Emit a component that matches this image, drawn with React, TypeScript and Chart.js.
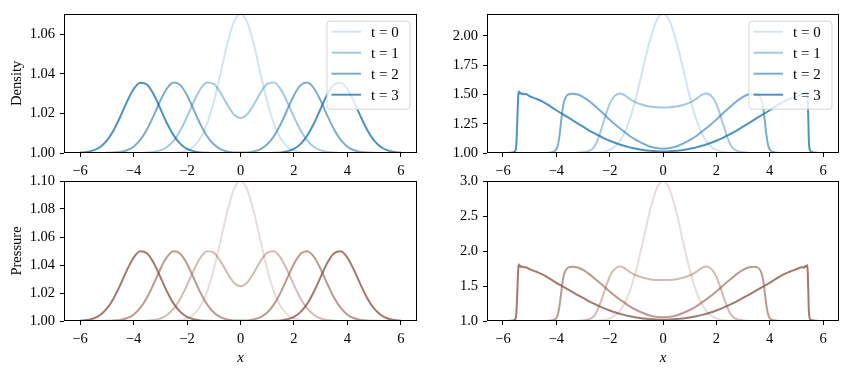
import React, { useEffect, useRef } from "react";
import { Chart, registerables } from "chart.js";

Chart.register(...registerables);

// ---------- data ----------
const LABELS = ["t = 0", "t = 1", "t = 2", "t = 3"];
const X_TICKS = [-6, -4, -2, 0, 2, 4, 6];

// left column (smooth) shared x grid
const LX = [-6, -5.75, -5.5, -5.25, -5, -4.75, -4.5, -4.25, -4, -3.75, -3.5, -3.25, -3, -2.75, -2.5, -2.25, -2, -1.75, -1.5, -1.25, -1, -0.75, -0.5, -0.25, 0, 0.25, 0.5, 0.75, 1, 1.25, 1.5, 1.75, 2, 2.25, 2.5, 2.75, 3, 3.25, 3.5, 3.75, 4, 4.25, 4.5, 4.75, 5, 5.25, 5.5, 5.75, 6];

const DENSITY_T0 = [1, 1, 1, 1, 1, 1, 1, 1, 1, 1, 1, 1, 1, 1, 1.0001, 1.0004, 1.0013, 1.0033, 1.0074, 1.0148, 1.0259, 1.0401, 1.0548, 1.0661, 1.0704, 1.0661, 1.0548, 1.0401, 1.0259, 1.0148, 1.0074, 1.0033, 1.0013, 1.0004, 1.0001, 1, 1, 1, 1, 1, 1, 1, 1, 1, 1, 1, 1, 1, 1];
const DENSITY_T1 = [1, 1, 1, 1, 1, 1, 1, 1, 1, 1, 1.0002, 1.0005, 1.0013, 1.003, 1.0062, 1.0114, 1.0182, 1.0258, 1.0323, 1.0356, 1.0349, 1.0305, 1.0246, 1.0196, 1.0177, 1.0196, 1.0246, 1.0305, 1.0349, 1.0356, 1.0323, 1.0258, 1.0182, 1.0114, 1.0062, 1.003, 1.0013, 1.0005, 1.0002, 1, 1, 1, 1, 1, 1, 1, 1, 1, 1];
const DENSITY_T2 = [1, 1, 1, 1, 1.0001, 1.0002, 1.0005, 1.0014, 1.0032, 1.0066, 1.0119, 1.0188, 1.0264, 1.0326, 1.0356, 1.0343, 1.0292, 1.0219, 1.0145, 1.0085, 1.0044, 1.002, 1.0008, 1.0003, 1.0002, 1.0003, 1.0008, 1.002, 1.0044, 1.0085, 1.0145, 1.0219, 1.0292, 1.0343, 1.0356, 1.0326, 1.0264, 1.0188, 1.0119, 1.0066, 1.0032, 1.0014, 1.0005, 1.0002, 1.0001, 1, 1, 1, 1];
const DENSITY_T3 = [1.0002, 1.0005, 1.0013, 1.003, 1.0062, 1.0114, 1.0182, 1.0258, 1.0322, 1.0355, 1.0346, 1.0297, 1.0225, 1.015, 1.0089, 1.0046, 1.0021, 1.0009, 1.0003, 1.0001, 1, 1, 1, 1, 1, 1, 1, 1, 1, 1.0001, 1.0003, 1.0009, 1.0021, 1.0046, 1.0089, 1.015, 1.0225, 1.0297, 1.0346, 1.0355, 1.0322, 1.0258, 1.0182, 1.0114, 1.0062, 1.003, 1.0013, 1.0005, 1.0002];

const PRESSURE_T0 = [1, 1, 1, 1, 1, 1, 1, 1, 1, 1, 1, 1, 1, 1, 1.0002, 1.0006, 1.0018, 1.0047, 1.0105, 1.021, 1.0368, 1.057, 1.0779, 1.0939, 1.1, 1.0939, 1.0779, 1.057, 1.0368, 1.021, 1.0105, 1.0047, 1.0018, 1.0006, 1.0002, 1, 1, 1, 1, 1, 1, 1, 1, 1, 1, 1, 1, 1, 1];
const PRESSURE_T1 = [1, 1, 1, 1, 1, 1, 1, 1, 1, 1, 1.0002, 1.0007, 1.0018, 1.0043, 1.0088, 1.0159, 1.0256, 1.0362, 1.0452, 1.0499, 1.0489, 1.0428, 1.0345, 1.0275, 1.0248, 1.0275, 1.0345, 1.0428, 1.0489, 1.0499, 1.0452, 1.0362, 1.0256, 1.0159, 1.0088, 1.0043, 1.0018, 1.0007, 1.0002, 1, 1, 1, 1, 1, 1, 1, 1, 1, 1];
const PRESSURE_T2 = [1, 1, 1, 1, 1.0001, 1.0003, 1.0008, 1.002, 1.0045, 1.0093, 1.0166, 1.0264, 1.037, 1.0457, 1.0499, 1.0481, 1.0409, 1.0307, 1.0203, 1.0119, 1.0061, 1.0028, 1.0011, 1.0004, 1.0003, 1.0004, 1.0011, 1.0028, 1.0061, 1.0119, 1.0203, 1.0307, 1.0409, 1.0481, 1.0499, 1.0457, 1.037, 1.0264, 1.0166, 1.0093, 1.0045, 1.002, 1.0008, 1.0003, 1.0001, 1, 1, 1, 1];
const PRESSURE_T3 = [1.0002, 1.0007, 1.0018, 1.0043, 1.0088, 1.0159, 1.0256, 1.0362, 1.0452, 1.0498, 1.0484, 1.0416, 1.0315, 1.0211, 1.0124, 1.0065, 1.003, 1.0012, 1.0004, 1.0001, 1, 1, 1, 1, 1, 1, 1, 1, 1, 1.0001, 1.0004, 1.0012, 1.003, 1.0065, 1.0124, 1.0211, 1.0315, 1.0416, 1.0484, 1.0498, 1.0452, 1.0362, 1.0256, 1.0159, 1.0088, 1.0043, 1.0018, 1.0007, 1.0002];

// right column (large amplitude, steepening)
const SX0 = LX;
const SHOCK_DENSITY_T0 = [1, 1, 1, 1, 1, 1, 1, 1, 1, 1, 1, 1, 1, 1.001, 1.003, 1.009, 1.026, 1.066, 1.147, 1.285, 1.483, 1.722, 1.954, 2.127, 2.192, 2.127, 1.954, 1.722, 1.483, 1.285, 1.147, 1.066, 1.026, 1.009, 1.003, 1.001, 1, 1, 1, 1, 1, 1, 1, 1, 1, 1, 1, 1, 1];
const SHOCK_PRESSURE_T0 = [1, 1, 1, 1, 1, 1, 1, 1, 1, 1, 1, 1, 1, 1.001, 1.004, 1.013, 1.037, 1.094, 1.211, 1.42, 1.736, 2.14, 2.558, 2.878, 3.0, 2.878, 2.558, 2.14, 1.736, 1.42, 1.211, 1.094, 1.037, 1.013, 1.004, 1.001, 1, 1, 1, 1, 1, 1, 1, 1, 1, 1, 1, 1, 1];

const SX1 = [-6, -5, -4, -3.5, -3.25, -3, -2.75, -2.625, -2.5, -2.375, -2.25, -2.125, -2, -1.875, -1.75, -1.6, -1.4, -1.25, -1, -0.75, -0.5, -0.25, 0, 0.25, 0.5, 0.75, 1, 1.25, 1.4, 1.6, 1.75, 1.875, 2, 2.125, 2.25, 2.375, 2.5, 2.625, 2.75, 3, 3.25, 3.5, 4, 5, 6];
const SHOCK_DENSITY_T1 = [1, 1, 1, 1, 1.001, 1.006, 1.02, 1.04, 1.085, 1.16, 1.25, 1.34, 1.42, 1.47, 1.498, 1.508, 1.488, 1.462, 1.43, 1.41, 1.397, 1.391, 1.389, 1.391, 1.397, 1.41, 1.43, 1.462, 1.488, 1.508, 1.498, 1.47, 1.42, 1.34, 1.25, 1.16, 1.085, 1.04, 1.02, 1.006, 1.001, 1, 1, 1, 1];
const SHOCK_PRESSURE_T1 = [1, 1, 1, 1, 1.0014, 1.0084, 1.028, 1.056, 1.121, 1.231, 1.367, 1.507, 1.634, 1.715, 1.761, 1.777, 1.744, 1.702, 1.65, 1.618, 1.597, 1.587, 1.584, 1.587, 1.597, 1.618, 1.65, 1.702, 1.744, 1.777, 1.761, 1.715, 1.634, 1.507, 1.367, 1.231, 1.121, 1.056, 1.028, 1.0084, 1.0014, 1, 1, 1, 1];

const SX2 = [-6, -5, -4.5, -4.3, -4.15, -4.05, -3.98, -3.93, -3.88, -3.83, -3.78, -3.72, -3.65, -3.55, -3.4, -3.2, -3, -2.75, -2.5, -2.25, -2, -1.75, -1.5, -1.25, -1, -0.75, -0.5, -0.25, 0, 0.25, 0.5, 0.75, 1, 1.25, 1.5, 1.75, 2, 2.25, 2.5, 2.75, 3, 3.2, 3.4, 3.55, 3.65, 3.72, 3.78, 3.83, 3.88, 3.93, 3.98, 4.05, 4.15, 4.3, 4.5, 5, 6];
const SHOCK_DENSITY_T2 = [1, 1, 1, 1.002, 1.007, 1.018, 1.04, 1.08, 1.15, 1.25, 1.35, 1.43, 1.475, 1.5, 1.507, 1.5, 1.48, 1.44, 1.39, 1.34, 1.285, 1.235, 1.19, 1.145, 1.11, 1.08, 1.055, 1.042, 1.037, 1.042, 1.055, 1.08, 1.11, 1.145, 1.19, 1.235, 1.285, 1.34, 1.39, 1.44, 1.48, 1.5, 1.507, 1.5, 1.475, 1.43, 1.35, 1.25, 1.15, 1.08, 1.04, 1.018, 1.007, 1.002, 1, 1, 1];
const SHOCK_PRESSURE_T2 = [1, 1, 1, 1.0028, 1.0098, 1.025, 1.056, 1.114, 1.216, 1.367, 1.522, 1.65, 1.723, 1.764, 1.776, 1.764, 1.731, 1.666, 1.586, 1.507, 1.421, 1.344, 1.276, 1.209, 1.157, 1.114, 1.078, 1.059, 1.052, 1.059, 1.078, 1.114, 1.157, 1.209, 1.276, 1.344, 1.421, 1.507, 1.586, 1.666, 1.731, 1.764, 1.776, 1.764, 1.723, 1.65, 1.522, 1.367, 1.216, 1.114, 1.056, 1.025, 1.0098, 1.0028, 1, 1, 1];

const SX3 = [-6, -5.8, -5.65, -5.57, -5.52, -5.49, -5.46, -5.43, -5.41, -5.38, -5.35, -5.31, -5.27, -5.22, -5.15, -5, -4.75, -4.5, -4.25, -4, -3.75, -3.5, -3.25, -3, -2.75, -2.5, -2.25, -2, -1.75, -1.5, -1.25, -1, -0.75, -0.5, -0.25, 0, 0.25, 0.5, 0.75, 1, 1.25, 1.5, 1.75, 2, 2.25, 2.5, 2.75, 3, 3.25, 3.5, 3.75, 4, 4.25, 4.5, 4.75, 5, 5.15, 5.22, 5.28, 5.33, 5.37, 5.41, 5.43, 5.45, 5.47, 5.5, 5.55, 5.65, 5.8, 6];
const SHOCK_DENSITY_T3 = [1, 1.001, 1.004, 1.012, 1.03, 1.12, 1.3, 1.48, 1.528, 1.508, 1.515, 1.504, 1.509, 1.501, 1.503, 1.485, 1.463, 1.437, 1.402, 1.365, 1.33, 1.295, 1.26, 1.225, 1.19, 1.16, 1.13, 1.105, 1.083, 1.064, 1.048, 1.036, 1.026, 1.019, 1.014, 1.012, 1.014, 1.019, 1.026, 1.036, 1.048, 1.064, 1.083, 1.105, 1.13, 1.16, 1.19, 1.225, 1.26, 1.295, 1.33, 1.365, 1.402, 1.437, 1.463, 1.485, 1.5, 1.505, 1.499, 1.512, 1.506, 1.522, 1.45, 1.28, 1.1, 1.03, 1.012, 1.004, 1.001, 1];
const SHOCK_PRESSURE_T3 = [1, 1.0014, 1.0056, 1.0168, 1.042, 1.172, 1.444, 1.731, 1.81, 1.777, 1.789, 1.771, 1.779, 1.766, 1.769, 1.74, 1.703, 1.661, 1.605, 1.546, 1.491, 1.436, 1.382, 1.329, 1.276, 1.231, 1.187, 1.15, 1.118, 1.091, 1.068, 1.051, 1.037, 1.027, 1.02, 1.017, 1.02, 1.027, 1.037, 1.051, 1.068, 1.091, 1.118, 1.15, 1.187, 1.231, 1.276, 1.329, 1.382, 1.436, 1.491, 1.546, 1.605, 1.661, 1.703, 1.74, 1.764, 1.772, 1.762, 1.784, 1.774, 1.8, 1.683, 1.413, 1.143, 1.042, 1.017, 1.0056, 1.0014, 1];

const Y_TICKS_TL = [1.0, 1.02, 1.04, 1.06];
const Y_TICKS_TR = [1.0, 1.25, 1.5, 1.75, 2.0];
const Y_TICKS_BL = [1.0, 1.02, 1.04, 1.06, 1.08, 1.1];
const Y_TICKS_BR = [1.0, 1.5, 2.0, 2.5, 3.0];

// ---------- styling ----------
const BLUE = ["rgba(31,119,180,0.2)", "rgba(31,119,180,0.4)", "rgba(31,119,180,0.6)", "rgba(31,119,180,0.8)"];
const BROWN = ["rgba(140,86,75,0.2)", "rgba(140,86,75,0.4)", "rgba(140,86,75,0.6)", "rgba(140,86,75,0.8)"];
const FAMILY = "'Liberation Serif', 'DejaVu Serif', serif";

type Series = { xs: number[]; ys: number[] };

const fmtNum = (v: number, d: number) => {
  const s = Math.abs(v).toFixed(d);
  return v < 0 ? "\u2212" + s : s;
};

const framePlugin = {
  id: "frame",
  afterDatasetsDraw(chart: any, _args: any, opts: any) {
    const { ctx, chartArea: a } = chart;
    ctx.save();
    ctx.strokeStyle = "#000";
    ctx.lineWidth = 1;
    ctx.strokeRect(Math.round(a.left) + 0.5, Math.round(a.top) + 0.5, Math.round(a.right - a.left) - 1, Math.round(a.bottom - a.top) - 1);
    if (opts && opts.show) {
      const colors: string[] = opts.colors;
      const w = 83;
      const h = 88;
      const right = a.right - 7;
      const top = a.top + 7.5;
      const left = right - w;
      ctx.beginPath();
      (ctx as any).roundRect(left, top, w, h, 3);
      ctx.fillStyle = "rgba(255,255,255,0.8)";
      ctx.fill();
      ctx.strokeStyle = "rgba(204,204,204,0.8)";
      ctx.lineWidth = 1;
      ctx.stroke();
      ctx.font = `15px ${FAMILY}`;
      ctx.textBaseline = "middle";
      ctx.textAlign = "left";
      LABELS.forEach((lab, i) => {
        const y = top + 10.5 + i * 21;
        ctx.beginPath();
        ctx.moveTo(left + 4.5, y);
        ctx.lineTo(left + 34, y);
        ctx.strokeStyle = colors[i];
        ctx.lineWidth = 2;
        ctx.stroke();
        ctx.fillStyle = "#000";
        ctx.fillText(lab, left + 44, y + 1);
      });
    }
    ctx.restore();
  },
};

type PanelProps = {
  left: number;
  top: number;
  width: number;
  height: number;
  padTop: number;
  padRight: number;
  yAxisWidth: number;
  xAxisHeight: number;
  series: Series[];
  colors: string[];
  yMin: number;
  yMax: number;
  yTicks: number[];
  yDecimals: number;
  yTitle?: string;
  xTitle?: string;
  legend?: boolean;
};

function Panel(p: PanelProps) {
  const ref = useRef<HTMLCanvasElement>(null);
  useEffect(() => {
    if (!ref.current) return;
    const n = p.series.length;
    const chart = new Chart(ref.current, {
      type: "line",
      data: {
        datasets: p.series.map((s, i) => ({
          label: LABELS[i],
          data: s.xs.map((x, j) => ({ x, y: s.ys[j] })),
          borderColor: p.colors[i],
          backgroundColor: p.colors[i],
          borderWidth: 2,
          pointRadius: 0,
          fill: false,
          cubicInterpolationMode: "monotone" as const,
          order: n - 1 - i,
        })),
      },
      options: {
        animation: false,
        responsive: false,
        events: [],
        layout: { padding: { left: 0, right: p.padRight, top: p.padTop, bottom: 0 } },
        plugins: {
          legend: { display: false },
          tooltip: { enabled: false },
          frame: { show: !!p.legend, colors: p.colors },
        } as any,
        scales: {
          x: {
            type: "linear",
            min: -6.6,
            max: 6.6,
            afterFit: (s: any) => {
              s.height = p.xAxisHeight;
            },
            afterBuildTicks: (s: any) => {
              s.ticks = X_TICKS.map((v) => ({ value: v }));
            },
            grid: { display: true, drawOnChartArea: false, drawTicks: true, tickLength: 4, tickColor: "#000", tickWidth: 1 },
            border: { display: false },
            ticks: {
              color: "#000",
              font: { family: FAMILY, size: 14.5 },
              padding: 5,
              maxRotation: 0,
              autoSkip: false,
              callback: (v: any) => fmtNum(Number(v), 0),
            },
            title: p.xTitle
              ? { display: true, text: p.xTitle, color: "#000", font: { family: FAMILY, size: 15, style: "italic" }, padding: { top: 0, bottom: 7 } }
              : { display: false },
          },
          y: {
            type: "linear",
            min: p.yMin,
            max: p.yMax,
            afterFit: (s: any) => {
              s.width = p.yAxisWidth;
            },
            afterBuildTicks: (s: any) => {
              s.ticks = p.yTicks.map((v) => ({ value: v }));
            },
            grid: { display: true, drawOnChartArea: false, drawTicks: true, tickLength: 4, tickColor: "#000", tickWidth: 1 },
            border: { display: false },
            ticks: {
              color: "#000",
              font: { family: FAMILY, size: 14.5 },
              padding: 5,
              autoSkip: false,
              callback: (v: any) => fmtNum(Number(v), p.yDecimals),
            },
            title: p.yTitle
              ? { display: true, text: p.yTitle, color: "#000", font: { family: FAMILY, size: 14.5 }, padding: { top: 8.5, bottom: 0 } }
              : { display: false },
          },
        },
      },
      plugins: [framePlugin],
    } as any);
    return () => chart.destroy();
  }, []);
  return (
    <canvas
      ref={ref}
      width={p.width}
      height={p.height}
      style={{ position: "absolute", left: p.left, top: p.top, width: p.width, height: p.height }}
    />
  );
}

export default function App() {
  const densitySmooth: Series[] = [
    { xs: LX, ys: DENSITY_T0 },
    { xs: LX, ys: DENSITY_T1 },
    { xs: LX, ys: DENSITY_T2 },
    { xs: LX, ys: DENSITY_T3 },
  ];
  const pressureSmooth: Series[] = [
    { xs: LX, ys: PRESSURE_T0 },
    { xs: LX, ys: PRESSURE_T1 },
    { xs: LX, ys: PRESSURE_T2 },
    { xs: LX, ys: PRESSURE_T3 },
  ];
  const densityShock: Series[] = [
    { xs: SX0, ys: SHOCK_DENSITY_T0 },
    { xs: SX1, ys: SHOCK_DENSITY_T1 },
    { xs: SX2, ys: SHOCK_DENSITY_T2 },
    { xs: SX3, ys: SHOCK_DENSITY_T3 },
  ];
  const pressureShock: Series[] = [
    { xs: SX0, ys: SHOCK_PRESSURE_T0 },
    { xs: SX1, ys: SHOCK_PRESSURE_T1 },
    { xs: SX2, ys: SHOCK_PRESSURE_T2 },
    { xs: SX3, ys: SHOCK_PRESSURE_T3 },
  ];
  return (
    <div style={{ position: "fixed", left: 0, top: 0, width: 852, height: 374, background: "#fff", overflow: "hidden" }}>
      <Panel left={0} top={0} width={426} height={190} padTop={13} padRight={9} yAxisWidth={64} xAxisHeight={37}
        series={densitySmooth} colors={BLUE} yMin={1.0} yMax={1.0704} yTicks={Y_TICKS_TL} yDecimals={2} yTitle="Density" legend />
      <Panel left={426} top={0} width={426} height={190} padTop={13} padRight={13} yAxisWidth={61} xAxisHeight={37}
        series={densityShock} colors={BLUE} yMin={1.0} yMax={2.19} yTicks={Y_TICKS_TR} yDecimals={2} legend />
      <Panel left={0} top={164} width={426} height={210} padTop={17} padRight={9} yAxisWidth={64} xAxisHeight={53}
        series={pressureSmooth} colors={BROWN} yMin={1.0} yMax={1.1} yTicks={Y_TICKS_BL} yDecimals={2} yTitle="Pressure" xTitle="x" />
      <Panel left={426} top={164} width={426} height={210} padTop={17} padRight={13} yAxisWidth={61} xAxisHeight={53}
        series={pressureShock} colors={BROWN} yMin={1.0} yMax={3.0} yTicks={Y_TICKS_BR} yDecimals={1} xTitle="x" />
    </div>
  );
}
